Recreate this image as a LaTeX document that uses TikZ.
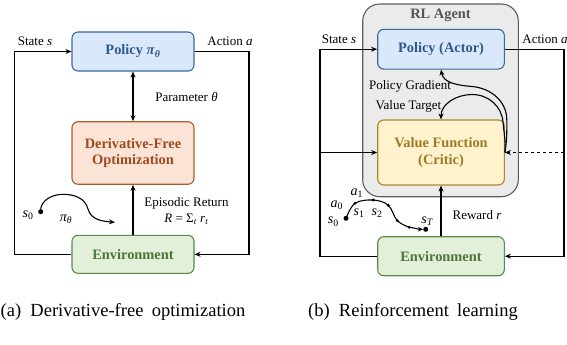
\documentclass[tikz,border=0pt]{standalone}
\usepackage{fontspec}
\setmainfont{Liberation Serif}
\usetikzlibrary{arrows.meta}
\definecolor{bluefill}{HTML}{DAE8FC}
\definecolor{bluedraw}{HTML}{3A6898}
\definecolor{bluetext}{HTML}{2E5A8A}
\definecolor{orfill}{HTML}{FBE4D6}
\definecolor{ordraw}{HTML}{A85A2E}
\definecolor{ortext}{HTML}{9E4A1E}
\definecolor{grfill}{HTML}{E2F0D9}
\definecolor{grdraw}{HTML}{5C8A46}
\definecolor{grtext}{HTML}{4E7438}
\definecolor{yefill}{HTML}{FFF2CC}
\definecolor{yedraw}{HTML}{A88A30}
\definecolor{yetext}{HTML}{9A7A24}
\definecolor{agfill}{HTML}{EBEBEB}
\definecolor{agdraw}{HTML}{5E5E5E}
\definecolor{agtext}{HTML}{555555}
\tikzset{
  box/.style={draw, rounded corners=6pt, line width=1.1pt, align=center, inner sep=0pt,
    font=\fontsize{14.4}{16.5}\selectfont\bfseries},
  bluebox/.style={box, fill=bluefill, draw=bluedraw, text=bluetext},
  orbox/.style={box, fill=orfill, draw=ordraw, text=ortext},
  grbox/.style={box, fill=grfill, draw=grdraw, text=grtext},
  yebox/.style={box, fill=yefill, draw=yedraw, text=yetext},
  lbl/.style={font=\fontsize{13}{15.5}\selectfont, inner sep=0pt, align=center},
  mlbl/.style={font=\fontsize{14}{15}\selectfont\itshape, inner sep=0pt},
  arr/.style={line width=1.1pt, -{Stealth[length=6pt,width=5pt]}},
  arrb/.style={line width=1.1pt, {Stealth[length=6pt,width=5pt]}-{Stealth[length=6pt,width=5pt]}},
  curv/.style={line width=1.1pt, -{Stealth[length=6pt,width=5pt]}},
  dotb/.style={circle, fill=black, inner sep=0pt, minimum size=5pt},
  dots/.style={circle, fill=black, inner sep=0pt, minimum size=3.2pt},
  captxt/.style={font=\fontsize{18.5}{20}\selectfont, inner sep=0pt}
}
\begin{document}
\begin{tikzpicture}[x=1pt,y=-1pt]
\useasboundingbox (0,0) rectangle (567,345);
% ---------------- (a) ----------------
\node[bluebox, minimum width=122pt, minimum height=39pt] (pol) at (133,51.5) {Policy \textit{π}\textsubscript{\textit{θ}}};
\node[orbox, minimum width=122pt, minimum height=62.5pt] (dfo) at (133,153) {Derivative-Free\\Optimization};
\node[grbox, minimum width=122pt, minimum height=38pt] (env) at (133,254.3) {Environment};
\coordinate (la) at (14.3,51.5);
\coordinate (ra) at (249,51.5);
\draw[arr] (env.west) -| (la) -- (pol.west);
\draw[arr] (pol.east) -- (ra) |- (env.east);
\draw[arrb] (pol.south) -- (dfo.north);
\draw[arr] (env.north) -- (dfo.south);
\node[lbl] (sa) at (35,41) {State \textit{s}};
\node[lbl] (aa) at (230,41) {Action \textit{a}};
\node[lbl] (par) at (186.5,97) {Parameter \textit{θ}};
\node[lbl] (epi) at (186.5,211) {Episodic Return\\\textit{R} = Σ\textsubscript{\textit{t}} \textit{r}\textsubscript{\textit{t}}};
\node[dotb] (s0a) at (40.7,211.7) {};
\coordinate (pa1) at (63,194.3);
\coordinate (pa2) at (88,209);
\coordinate (pa3) at (115,222.3);
\draw[curv] (s0a.center) to[out=95,in=180] (pa1) to[out=0,in=105] (pa2) to[out=-75,in=175] (pa3);
\node[mlbl] (ls0a) at (28,215) {s\textsubscript{\upshape 0}};
\node[mlbl] (lpi) at (66,219.5) {π\textsubscript{θ}};
\node[captxt] (capa) at (123,312) {(a)\hspace{0.5em}Derivative-free\hspace{0.45em}optimization};
% ---------------- (b) ----------------
\node[draw=agdraw, fill=agfill, line width=1.1pt, rounded corners=17pt, minimum width=155.6pt, minimum height=192.7pt, inner sep=0pt] (agent) at (440.5,100.35) {};
\node[font=\fontsize{14.4}{16}\selectfont\bfseries, text=agtext, inner sep=0pt] (agt) at (440.5,15.7) {RL Agent};
\node[bluebox, minimum width=126.6pt, minimum height=39.7pt] (act) at (441,49.2) {Policy (Actor)};
\node[yebox, minimum width=126.6pt, minimum height=65pt] (vf) at (441,152.5) {Value Function\\(Critic)};
\node[grbox, minimum width=126.6pt, minimum height=39pt] (env2) at (441,256.2) {Environment};
\coordinate (lb) at (320,49.2);
\coordinate (rb) at (564,49.2);
\draw[arr] (env2.west) -| (lb) -- (act.west);
\draw[arr] (lb |- vf.west) -- (vf.west);
\draw[arr] (act.east) -- (rb) |- (env2.east);
\draw[arr, dashed] (rb |- vf.east) -- (vf.east);
\draw[arr] (env2.north) -- (vf.south);
\coordinate (c1a) at (506.8,120);
\coordinate (c1b) at (472,86.5);
\coordinate (c2a) at (503,122);
\coordinate (c2b) at (472,94.5);
\draw[curv] (vf.east) to[out=80,in=-90] (c1a) to[out=90,in=-5] (c1b) to[out=175,in=-80] (act.south);
\draw[curv] (vf.east) to[out=85,in=-85] (c2a) to[out=95,in=0] (c2b) to[out=180,in=90] (vf.north);
\node[lbl] (sb) at (339,39) {State \textit{s}};
\node[lbl] (ab) at (545,39) {Action \textit{a}};
\node[lbl] (pg) at (410,86) {Policy Gradient};
\node[lbl] (vt) at (408.5,106) {Value Target};
\node[lbl] (rw) at (477,215) {Reward \textit{r}};
% trajectory
\node[dotb] (t0) at (346,218.3) {};
\node[dots] (t1) at (355,203.3) {};
\node[dots] (t2) at (373.3,200) {};
\node[dots] (t3) at (388.3,205.3) {};
\node[dots] (t4) at (397.3,220.7) {};
\node[dots] (t5) at (409.3,227.3) {};
\node[dotb] (t6) at (425.7,229.3) {};
\draw[line width=1.1pt] plot[smooth, tension=0.6] coordinates {(t0.center) (t1.center) (t2.center) (t3.center) (t4.center) (t5.center)};
\draw[line width=1.1pt, -{Stealth[length=5pt,width=4.5pt]}] (t5.center) to[out=-5,in=180] (t6.west);
\node[mlbl] (la0) at (336.7,205) {a\textsubscript{\upshape 0}};
\node[mlbl] (ls0) at (333.3,221.7) {s\textsubscript{\upshape 0}};
\node[mlbl] (la1) at (356.7,193.3) {a\textsubscript{\upshape 1}};
\node[mlbl] (ls1) at (359,213.3) {s\textsubscript{\upshape 1}};
\node[mlbl] (ls2) at (377,213.3) {s\textsubscript{\upshape 2}};
\node[mlbl] (lsT) at (427,221) {s\textsubscript{T}};
\node[captxt] (capb) at (413,312) {(b)\hspace{0.5em}Reinforcement\hspace{0.45em}learning};
\end{tikzpicture}
\end{document}
